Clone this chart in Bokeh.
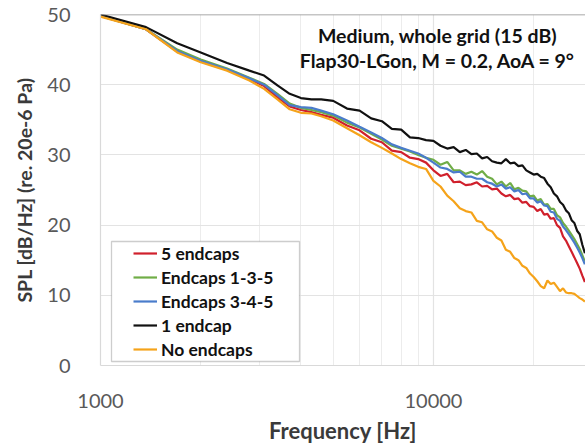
from bokeh.plotting import figure
from bokeh.models import (Range1d, FixedTicker, NumeralTickFormatter, Legend, LegendItem,
                          Label, BoxAnnotation, Span)
from bokeh.embed import file_html
from bokeh.resources import INLINE

# ---------------- data ----------------
freq = [1000, 1370, 1700, 2000, 2400, 2800, 3100, 3400, 3700, 4000, 4300, 4600,
        5000, 5500, 6000, 6500, 7000, 7500, 8000, 8500, 9000, 9500,
        10000, 10500, 11000, 11500, 12000, 12500, 13000, 13500, 14000, 14500,
        15000, 15500, 16000, 16500, 17000, 17500, 18000, 18500, 19000, 19500,
        20000, 20500, 21000, 21500, 22000, 22500, 23000, 23500, 24000, 24500,
        25000, 25500, 26000, 26500, 27000, 27500, 28000, 28500]

spl_5_endcaps = [49.8, 47.9, 44.7, 43.3, 42.1, 40.8, 39.8, 38.2, 36.9, 36.4, 36.1, 35.7,
                 35.3, 34.2, 33.5, 32.3, 31.8, 30.6, 30.4, 29.6, 29.4, 28.9,
                 27.8, 27.0, 27.3, 26.1, 26.2, 25.7, 25.8, 26.1, 25.5, 25.6,
                 25.1, 25.2, 24.5, 24.1, 24.3, 23.7, 23.8, 23.2, 23.3, 22.7,
                 22.6, 22.0, 22.3, 21.5, 21.6, 20.9, 21.0, 20.0, 19.6, 18.4,
                 17.8, 17.0, 16.2, 15.4, 14.6, 13.8, 12.8, 11.9]

spl_endcaps_135 = [49.8, 47.9, 45.0, 43.6, 42.3, 41.0, 40.1, 38.7, 37.3, 36.7, 36.4, 36.1,
                   35.6, 34.6, 33.9, 33.0, 32.2, 31.3, 30.9, 30.5, 30.0, 29.6,
                   29.3, 28.6, 29.0, 27.8, 27.8, 27.3, 27.6, 27.2, 27.7, 26.9,
                   26.6, 25.8, 26.2, 25.5, 26.0, 25.1, 25.3, 24.9, 24.8, 24.1,
                   24.2, 23.5, 23.7, 22.9, 23.0, 22.3, 22.3, 21.4, 21.1, 20.3,
                   19.8, 19.2, 18.6, 18.0, 17.3, 16.6, 15.7, 14.8]

spl_endcaps_345 = [49.8, 47.9, 44.8, 43.4, 42.2, 40.9, 40.0, 38.5, 37.1, 36.8, 36.7, 36.3,
                   35.8, 34.9, 34.0, 33.2, 32.4, 31.5, 31.0, 30.6, 30.2, 29.6,
                   28.9, 28.2, 28.0, 27.5, 27.6, 26.9, 26.9, 26.6, 26.6, 26.1,
                   25.9, 25.5, 25.8, 25.2, 25.4, 24.8, 25.0, 24.4, 24.5, 23.8,
                   23.8, 23.2, 23.4, 22.8, 22.7, 21.9, 21.8, 20.9, 20.6, 19.8,
                   19.3, 18.7, 18.1, 17.5, 16.8, 16.1, 15.3, 14.4]

spl_1_endcap = [50.0, 48.2, 45.9, 44.6, 43.1, 42.0, 41.3, 39.9, 38.7, 38.1, 37.9, 37.9,
                37.7, 36.6, 36.3, 35.2, 34.8, 33.7, 33.6, 32.5, 32.4, 32.1,
                32.0, 31.3, 30.9, 31.1, 30.4, 30.7, 30.1, 30.2, 29.5, 29.7,
                29.1, 28.9, 28.8, 29.4, 28.8, 28.9, 28.4, 28.5, 27.8, 27.5,
                27.2, 27.3, 26.9, 26.7, 25.9, 25.4, 24.5, 24.1, 23.3, 22.9,
                22.1, 21.7, 20.7, 20.3, 19.2, 18.7, 17.2, 16.0]

spl_no_endcaps = [49.7, 47.9, 44.6, 43.2, 42.0, 40.6, 39.4, 37.9, 36.5, 36.0, 35.9, 35.5,
                  34.9, 33.8, 32.8, 31.8, 31.0, 30.2, 29.4, 28.8, 28.3, 28.0,
                  26.3, 25.5, 24.2, 23.4, 22.4, 22.0, 21.8, 20.6, 20.4, 19.4,
                  19.1, 18.2, 17.8, 16.5, 16.2, 15.3, 15.0, 14.2, 13.9, 13.1,
                  12.6, 12.0, 11.3, 11.0, 12.1, 11.6, 11.8, 11.2, 10.6, 11.0,
                  10.4, 10.3, 10.3, 10.2, 9.9, 9.6, 9.4, 9.1]

series_names = ["5 endcaps", "Endcaps 1-3-5", "Endcaps 3-4-5", "1 endcap", "No endcaps"]
series_values = [spl_5_endcaps, spl_endcaps_135, spl_endcaps_345, spl_1_endcap, spl_no_endcaps]
series_colors = ["#D0202C", "#70AD47", "#4A7CCB", "#111111", "#F5A31A"]

x_major_ticks = [1000, 10000]
x_minor_ticks = [2000, 3000, 4000, 5000, 6000, 7000, 8000, 9000, 20000]
y_ticks = [0, 10, 20, 30, 40, 50]

title_line1 = "Medium, whole grid (15 dB)"
title_line2 = "Flap30-LGon, M = 0.2, AoA = 9°"

FONT = "Lato"

# ---------------- figure ----------------
p = figure(width=585, height=446, x_axis_type="log",
           x_range=Range1d(1000, 28620), y_range=Range1d(0, 50),
           output_backend="svg", toolbar_location=None,
           min_border_left=100, min_border_right=0, min_border_top=14, min_border_bottom=80)
p.outline_line_color = None
p.background_fill_color = "white"
p.border_fill_color = "white"

# axes
p.xaxis.ticker = FixedTicker(ticks=x_major_ticks, minor_ticks=x_minor_ticks)
p.xaxis.formatter = NumeralTickFormatter(format="0")
p.yaxis.ticker = FixedTicker(ticks=y_ticks)
for ax in (p.xaxis, p.yaxis):
    ax.major_tick_line_color = None
    ax.minor_tick_line_color = None
    ax.axis_line_color = "#d9d9d9"
    ax.axis_line_width = 1.2
    ax.major_label_text_font = FONT
    ax.major_label_text_font_size = "20px"
    ax.major_label_text_color = "#595959"
    ax.axis_label_text_font = FONT
    ax.axis_label_text_font_style = "bold"
    ax.axis_label_text_color = "#3a3a3a"
p.xaxis.axis_label_text_font_size = "22px"
p.yaxis.axis_label_text_font_size = "19.5px"
p.xaxis.major_label_standoff = 22
p.xaxis.axis_label_standoff = 6
p.yaxis.major_label_standoff = 24
p.yaxis.axis_label_standoff = 8
p.xaxis.axis_label = "Frequency [Hz]"
p.yaxis.axis_label = "SPL [dB/Hz] (re. 20e-6 Pa)"

# grids
p.xgrid.ticker = FixedTicker(ticks=x_major_ticks, minor_ticks=x_minor_ticks)
p.xgrid.grid_line_color = "#e3e3e3"
p.xgrid.minor_grid_line_color = "#ececec"
p.xgrid.grid_line_width = 1.2
p.ygrid.ticker = FixedTicker(ticks=y_ticks)
p.ygrid.grid_line_color = "#e3e3e3"
p.ygrid.grid_line_width = 1.2

# top border line
p.add_layout(Span(location=50, dimension="width", line_color="#8c8c8c", line_width=1.5))

# series
renderers = []
for vals, col in zip(series_values, series_colors):
    r = p.line(freq, vals, line_color=col, line_width=2.2)
    renderers.append(r)

# legend frame
box = BoxAnnotation(left=11, right=199, bottom=4, top=124,
                    left_units="screen", right_units="screen",
                    bottom_units="screen", top_units="screen",
                    fill_color="white", fill_alpha=1.0,
                    line_color="#595959", line_width=1.3)
p.add_layout(box)

legend = Legend(items=[LegendItem(label=n, renderers=[r]) for n, r in zip(series_names, renderers)],
                location=(33, 4), padding=0, spacing=0, margin=0,
                glyph_width=24, glyph_height=24, label_height=24, label_standoff=4,
                border_line_color=None, background_fill_alpha=0.0,
                label_text_font=FONT, label_text_font_style="bold",
                label_text_font_size="17.5px", label_text_color="#111111")
p.add_layout(legend, "center")

# in-plot title
for txt, yy in ((title_line1, 330), (title_line2, 305)):
    p.add_layout(Label(x=337, y=yy, x_units="screen", y_units="screen", text=txt,
                       text_align="center", text_baseline="middle",
                       text_font=FONT, text_font_style="bold", text_font_size="19.5px",
                       text_color="#111111"))

open("out.html", "w").write(file_html(p, INLINE))
